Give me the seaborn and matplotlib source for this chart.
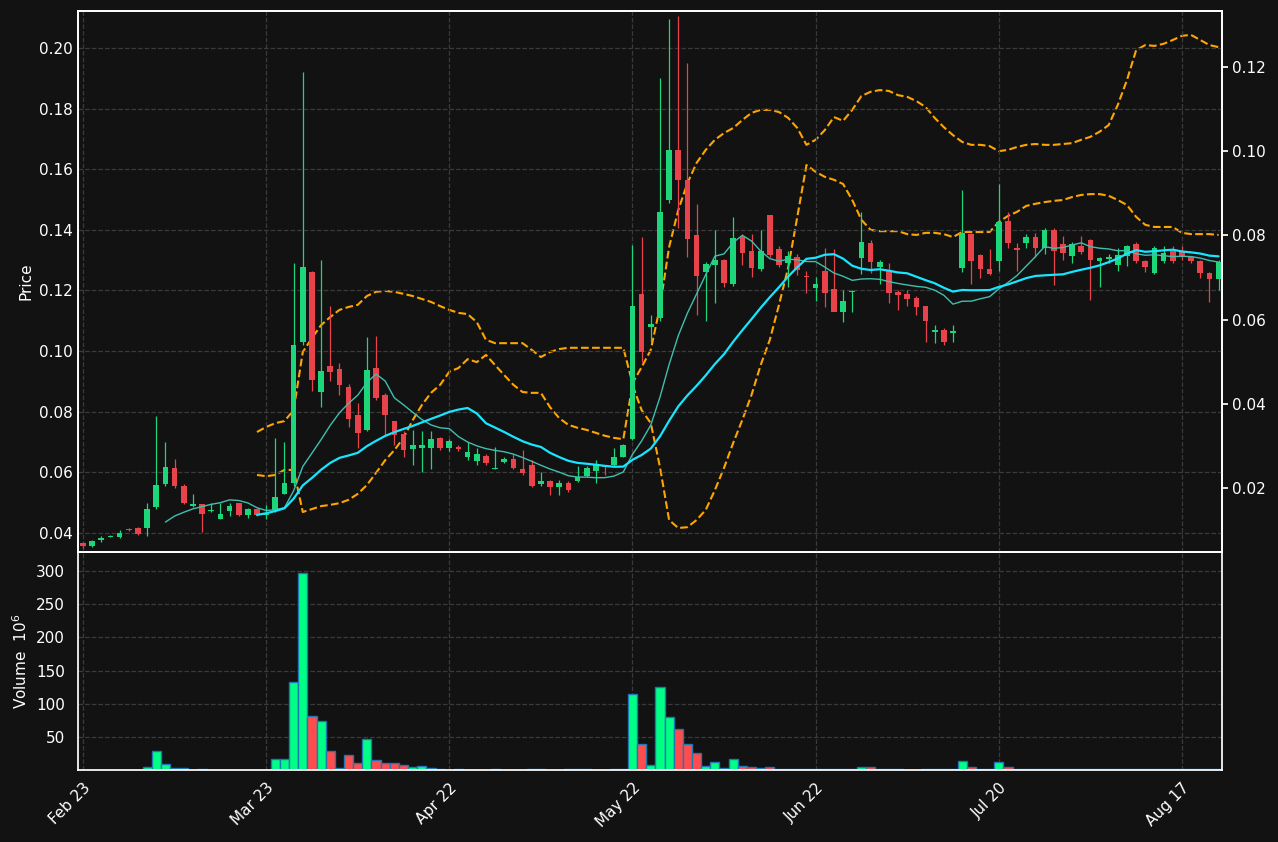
import numpy as np
import pandas as pd
import matplotlib
matplotlib.use("Agg")
import matplotlib.pyplot as plt
import seaborn as sns

opens = [.0367,.0356,.0376,.0386,.0387,.0410,.0416,.0416,.0486,.0561,.0614,.0555,.0490,.0495,.0472,.0446,.0472,.0498,.0459,.0478,
         .0460,.0475,.0530,.0564,.1030,.1262,.0866,.0950,.0940,.0880,.0790,.0740,.0945,.0855,.0768,.0725,.0676,.0680,.0680,.0713,
         .0680,.0683,.0650,.0638,.0654,.0611,.0634,.0644,.0611,.0624,.0562,.0572,.0552,.0565,.0572,.0588,.0605,.0620,.0624,.0651,
         .0710,.1189,.1080,.1109,.1498,.1663,.1565,.1383,.1262,.1284,.1301,.1220,.1377,.1330,.1271,.1449,.1337,.1291,.1311,.1248,
         .1208,.1264,.1205,.1129,.1195,.1307,.1357,.1278,.1268,.1195,.1189,.1175,.1149,.1063,.1070,.1060,.1274,.1387,.1317,.1271,
         .1297,.1429,.1340,.1357,.1377,.1340,.1400,.1354,.1314,.1347,.1367,.1297,.1305,.1284,.1314,.1354,.1297,.1258,.1297,.1330,
         .1327,.1311,.1297,.1258,.1238]
closes = [.0357,.0373,.0383,.0387,.0400,.0408,.0396,.0479,.0558,.0617,.0555,.0498,.0495,.0462,.0475,.0462,.0489,.0459,.0478,.0459,
          .0464,.0520,.0564,.1020,.1277,.0903,.0935,.0930,.0889,.0775,.0730,.0938,.0846,.0788,.0722,.0672,.0690,.0691,.0711,.0680,
          .0702,.0676,.0667,.0661,.0631,.0614,.0644,.0614,.0598,.0555,.0572,.0552,.0565,.0542,.0585,.0614,.0624,.0617,.0651,.0690,
          .1149,.0997,.1090,.1459,.1663,.1565,.1370,.1248,.1288,.1301,.1225,.1373,.1324,.1274,.1330,.1317,.1284,.1314,.1268,.1245,
          .1222,.1192,.1129,.1165,.1197,.1360,.1294,.1294,.1192,.1185,.1172,.1146,.1100,.1068,.1030,.1066,.1390,.1297,.1271,.1255,
          .1426,.1357,.1335,.1377,.1340,.1400,.1330,.1324,.1354,.1327,.1300,.1307,.1309,.1317,.1347,.1297,.1278,.1340,.1324,.1297,
          .1311,.1297,.1258,.1238,.1294]
highs = [.0370,.0375,.0390,.0392,.0410,.0415,.0418,.0499,.0786,.0700,.0643,.0560,.0528,.0497,.0498,.0498,.0498,.0500,.0482,.0482,
         .0492,.0712,.0700,.1290,.1920,.1265,.1300,.1150,.0960,.0890,.0830,.1045,.1050,.0860,.0770,.0735,.0740,.0735,.0735,.0715,
         .0710,.0690,.0700,.0680,.0660,.0684,.0650,.0660,.0674,.0640,.0600,.0575,.0575,.0570,.0620,.0620,.0640,.0622,.0679,.0692,
         .1350,.1377,.1120,.1900,.2096,.2106,.1950,.1486,.1295,.1400,.1305,.1443,.1385,.1385,.1400,.1450,.1345,.1330,.1320,.1265,
         .1245,.1340,.1337,.1202,.1200,.1460,.1365,.1300,.1290,.1200,.1200,.1180,.1150,.1085,.1075,.1085,.1532,.1390,.1320,.1337,
         .1551,.1459,.1357,.1385,.1390,.1405,.1405,.1380,.1360,.1380,.1370,.1310,.1320,.1340,.1350,.1360,.1300,.1345,.1345,.1345,
         .1345,.1315,.1300,.1262,.1300]
lows = [.0350,.0355,.0370,.0385,.0384,.0405,.0392,.0390,.0480,.0555,.0548,.0495,.0487,.0403,.0470,.0445,.0455,.0456,.0448,.0455,
        .0445,.0470,.0528,.0555,.1020,.0869,.0815,.0900,.0855,.0750,.0680,.0735,.0840,.0720,.0690,.0650,.0625,.0602,.0610,.0675,
        .0670,.0670,.0640,.0625,.0625,.0611,.0630,.0612,.0590,.0550,.0555,.0525,.0525,.0535,.0568,.0585,.0565,.0590,.0620,.0650,
        .0705,.0965,.1030,.1100,.1490,.1406,.1310,.1120,.1100,.1160,.1210,.1215,.1285,.1245,.1265,.1310,.1278,.1211,.1250,.1190,
        .1165,.1145,.1142,.1096,.1129,.1254,.1258,.1220,.1159,.1135,.1150,.1120,.1030,.1025,.1020,.1030,.1260,.1222,.1240,.1250,
        .1265,.1340,.1265,.1340,.1310,.1320,.1218,.1300,.1290,.1320,.1169,.1210,.1290,.1265,.1280,.1290,.1260,.1255,.1290,.1290,
        .1300,.1290,.1240,.1162,.1200]
volumes = [0.3,0.3,0.3,0.3,0.3,0.3,0.3,4,28,9,2.5,2.5,0.5,1.5,0.5,0.5,0.5,0.5,0.5,0.5,
           0.5,16,16,133,298,82,74,28,2.5,23,11,47,15,11,11,8,4,6,2.5,1,
           0.5,1,0.5,0.5,0.5,1,0.5,0.5,0.5,1,1.5,0.5,0.5,1,1,1,0.5,0.5,1,1,
           115,40,7.5,126,80,62,40,25,6.5,12.6,2.5,16,6.5,4,2.5,5,2,2,1,2,
           1,1,1.5,1,1.5,5,4,1,2,1,0.5,0.5,1,1,1,1,14,4,1,1,
           12,4,2,1,1,2,2,1,1,1,2,1,1,1,1,1,1,1,1,1,
           2,2,1,1,1]
band_upper = [.0333,.0345,.0354,.0359,.0385,.0523,.0556,.0587,.0606,.0623,.0630,.0635,.0656,.0666,.0668,.0666,.0661,.0656,.0649,.0642,
              .0632,.0623,.0616,.0613,.0594,.0552,.0544,.0544,.0544,.0544,.0528,.0511,.0523,.0530,.0533,.0533,.0533,.0533,.0533,.0533,
              .0533,.0449,.0487,.0528,.0630,.0772,.0860,.0924,.0972,.1003,.1027,.1043,.1055,.1074,.1091,.1098,.1098,.1093,.1079,.1055,
              .1015,.1027,.1050,.1081,.1072,.1098,.1131,.1141,.1145,.1143,.1133,.1129,.1119,.1105,.1079,.1057,.1038,.1022,.1015,.1015,
              .1012,.1000,.1003,.1010,.1015,.1017,.1015,.1015,.1017,.1019,.1027,.1034,.1046,.1062,.1110,.1169,.1240,.1252,.1250,.1255,
              .1264,.1274,.1276,.1264,.1252,.1247]
band_lower = [.0231,.0228,.0231,.0243,.0243,.0143,.0150,.0157,.0160,.0164,.0172,.0186,.0207,.0236,.0266,.0290,.0319,.0361,.0397,.0426,
              .0445,.0476,.0485,.0506,.0499,.0516,.0492,.0468,.0445,.0428,.0426,.0426,.0392,.0366,.0350,.0343,.0338,.0331,.0324,.0319,
              .0316,.0445,.0385,.0354,.0250,.0124,.0105,.0107,.0124,.0148,.0195,.0248,.0307,.0362,.0421,.0492,.0552,.0635,.0723,.0844,
              .0967,.0951,.0939,.0932,.0922,.0884,.0837,.0813,.0810,.0810,.0810,.0803,.0801,.0806,.0806,.0803,.0796,.0808,.0808,.0808,
              .0808,.0832,.0846,.0856,.0870,.0875,.0879,.0882,.0884,.0891,.0896,.0898,.0898,.0894,.0884,.0872,.0844,.0825,.0820,.0820,
              .0820,.0806,.0803,.0803,.0803,.0801]
tick_labels = ["Feb 23", "Mar 23", "Apr 22", "May 22", "Jun 22", "Jul 20", "Aug 17"]
band_start = 19

BG = "#121212"
UP, DN = "#1ed67a", "#e8424a"
VUP, VDN = "#00ff85", "#ff4d4d"

sns.set_theme(style="dark")
plt.rcParams.update({"font.family": ["DejaVu Sans"], "text.color": "white", "axes.labelcolor": "white",
                     "xtick.color": "white", "ytick.color": "white"})

n = len(closes)
df = pd.DataFrame({"i": np.arange(n), "o": opens, "c": closes, "h": highs, "l": lows, "v": volumes})
df["ma10"] = df["c"].rolling(10).mean()
df["ma20"] = df["c"].rolling(20).mean()
bands = pd.DataFrame({"i": np.arange(band_start, band_start + len(band_upper)), "up": band_upper, "lo": band_lower})
up = df["c"] >= df["o"]

fig = plt.figure(figsize=(12.78, 8.42), dpi=100, facecolor=BG)
ax = fig.add_axes([0.061, 0.3444, 0.895, 0.6426])
axv = fig.add_axes([0.061, 0.0855, 0.895, 0.2589], sharex=ax)
ax2 = ax.twinx()
for a in (ax, axv, ax2):
    a.set_facecolor(BG)
    for s in a.spines.values():
        s.set_color("white")
for a in (ax, axv):
    a.grid(True, color="#3a3a3a", linestyle="--", linewidth=0.9)
ax2.grid(False)
ax.set_zorder(ax2.get_zorder() + 1)
ax.patch.set_visible(False)
ax2.patch.set_visible(True)

cols = np.where(up, UP, DN)
ax.vlines(df["i"], df["l"], df["h"], colors=cols, linewidth=0.9, zorder=2)
body_bot = np.minimum(df["o"], df["c"])
body_h = np.maximum(np.abs(df["c"] - df["o"]), 0.0004)
ax.bar(df["i"], body_h, bottom=body_bot, width=0.62, color=cols, linewidth=0, zorder=3)

sns.lineplot(data=df, x="i", y="ma10", ax=ax, color="#3fbfae", linewidth=1.0, zorder=4)
sns.lineplot(data=df, x="i", y="ma20", ax=ax, color="#18e5ff", linewidth=1.6, zorder=4)
sns.lineplot(data=bands, x="i", y="up", ax=ax2, color="#ffa500", linewidth=1.5, linestyle="--")
sns.lineplot(data=bands, x="i", y="lo", ax=ax2, color="#ffa500", linewidth=1.5, linestyle="--")

ax.set_ylim(0.0337, 0.2122)
ax.set_yticks(np.arange(0.04, 0.201, 0.02))
ax.set_yticklabels([f"{t:.2f}" for t in np.arange(0.04, 0.201, 0.02)])
ax.set_ylabel("Price", fontsize=11)
ax.set_xlabel("")
ax2.set_ylim(0.0048, 0.1333)
ax2.set_yticks(np.arange(0.02, 0.121, 0.02))
ax2.set_yticklabels([f"{t:.2f}" for t in np.arange(0.02, 0.121, 0.02)])
ax2.set_ylabel("")
ax.set_xlim(-0.55, 124.35)
plt.setp(ax.get_xticklabels(), visible=False)
ax.tick_params(axis="x", length=0)

vcols = np.where(up, VUP, VDN)
axv.bar(df["i"], df["v"], width=1.0, color=vcols, edgecolor="#1f77b4", linewidth=1.0)
axv.set_ylim(0, 329)
axv.set_yticks([50, 100, 150, 200, 250, 300])
axv.set_ylabel("Volume  $10^{6}$", fontsize=11)
axv.set_xticks(np.arange(0, 121, 20))
axv.set_xticklabels(tick_labels, rotation=45, ha="right", rotation_mode="anchor")
axv.tick_params(axis="x", length=4, color="white")
ax.tick_params(axis="y", length=0)
ax2.tick_params(axis="y", length=4, color="white")

fig.savefig("out.png", dpi=100, facecolor=BG)
